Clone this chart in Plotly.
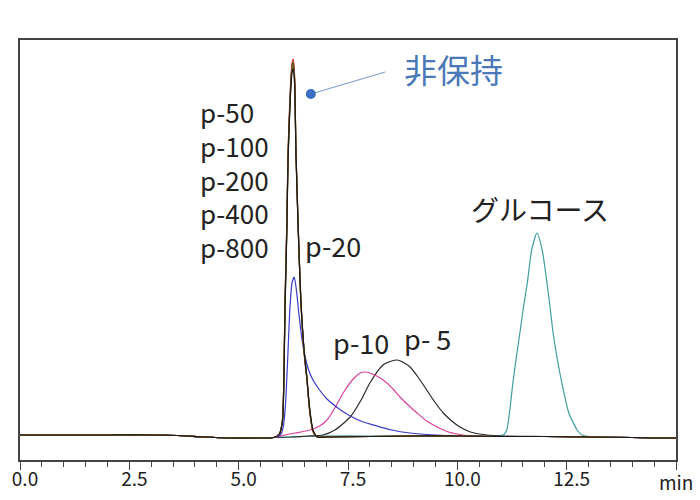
import plotly.graph_objects as go

# ---- data (time in min, detector signal in arbitrary units) ----
T_MAIN = [0, 1, 2, 3, 3.6, 4.2, 4.8, 5.4, 5.8, 5.93, 6.0, 6.03, 6.06, 6.1, 6.13, 6.18, 6.22, 6.25,
          6.28, 6.31, 6.36, 6.42, 6.5, 6.56, 6.62, 6.7, 6.8, 7.0, 8, 9, 10, 11, 12, 13, 14, 14.5, 15]
P50 = [0, 0, 0, 0, -0.5, -2, -3, -3, -2.5, 1, 15, 50, 135, 210, 285, 345, 372, 376,
       358, 285, 210, 135, 80, 55, 25, 3, -2, -2, -1.5, -1, -1, -1.5, -1.5, -2, -2.5, -3, -3]
P100 = [0, 0, 0, 0, -0.5, -2, -3, -3, -2.5, 1, 14, 48, 132, 207, 282, 342, 369, 373,
        356, 284, 210, 136, 81, 56, 26, 4, -2, -2, -1.5, -1, -1, -1.5, -1.5, -2, -2.5, -3, -3]
P200 = [0, 0, 0, 0, -0.5, -2, -3, -3, -2.5, 1, 14, 47, 130, 205, 280, 340, 367, 371,
        354, 283, 209, 136, 82, 57, 27, 4, -2, -2, -1.5, -1, -1, -1.5, -1.5, -2, -2.5, -3, -3]
P400 = [0, 0, 0, 0, -0.5, -2, -3, -3, -2.5, 1, 13, 46, 128, 203, 278, 338, 365, 369,
        352, 282, 209, 137, 82, 57, 27, 4, -2, -2, -1.5, -1, -1, -1.5, -1.5, -2, -2.5, -3, -3]
P800 = [0, 0, 0, 0, -0.5, -2, -3, -3, -2.5, 1, 13, 45, 126, 200, 276, 336, 362, 366,
        350, 281, 208, 137, 83, 58, 28, 5, -2, -2, -1.5, -1, -1, -1.5, -1.5, -2, -2.5, -3, -3]

T_P20 = [0, 1, 2, 3, 3.6, 4.2, 4.8, 5.4, 5.8, 5.95, 6.02, 6.07, 6.12, 6.17, 6.22, 6.27, 6.32, 6.38,
         6.45, 6.52, 6.6, 6.7, 6.85, 7.02, 7.3, 7.55, 7.85, 8.16, 8.5, 8.92, 9.5, 10, 11, 12, 13, 14, 14.5, 15]
P20 = [0, 0, 0, 0, -0.5, -2, -3, -3, -2.5, 0, 8, 30, 75, 125, 152, 158, 145, 120,
       95, 78, 65, 55, 45, 36, 26, 19, 13, 9, 5, 2, 0, -1, -1.5, -1.5, -2, -2.5, -3, -3]

T_P10 = [0, 1, 2, 3, 3.6, 4.2, 4.8, 5.4, 5.8, 5.95, 6.05, 6.3, 6.63, 6.85, 7.02, 7.2, 7.39, 7.6, 7.78,
         7.9, 8.0, 8.2, 8.39, 8.55, 8.69, 8.9, 9.08, 9.3, 9.54, 9.8, 10.0, 10.3, 11, 12, 13, 14, 14.5, 15]
P10 = [0, 0, 0, 0, -0.5, -2, -3, -3, -2.5, -1, 0, 2, 5, 9, 15, 27, 42, 55, 62,
       63, 62, 58, 52, 45, 38, 29, 22, 14, 8, 3, 1, -1, -1.5, -1.5, -2, -2.5, -3, -3]

T_P5 = [0, 1, 2, 3, 3.6, 4.2, 4.8, 5.4, 5.8, 6.2, 6.6, 6.93, 7.2, 7.55, 7.8, 8.0, 8.3, 8.5, 8.62,
        8.75, 8.92, 9.1, 9.3, 9.5, 9.68, 9.9, 10.06, 10.3, 10.5, 11, 12, 13, 14, 14.5, 15]
P5 = [0, 0, 0, 0, -0.5, -2, -3, -3, -2.5, -2, -1, 0, 5, 18, 35, 52, 70, 74, 75,
      73, 68, 58, 45, 32, 22, 13, 8, 3, 1, -1, -1.5, -2, -2.5, -3, -3]

T_GLU = [0, 1, 2, 3, 3.6, 4.2, 4.8, 5.4, 5.8, 6.5, 7, 8, 9, 10, 10.8, 11.05, 11.13, 11.2, 11.27,
         11.35, 11.43, 11.52, 11.6, 11.7, 11.82, 11.94, 12.05, 12.12, 12.19, 12.29, 12.39, 12.55,
         12.74, 12.85, 13, 14, 14.5, 15]
GLU = [0, 0, 0, 0, -0.5, -2, -3, -3, -2.5, -1.5, -1, -1, -1, -1, -1, 0, 5, 25, 52,
       78, 102, 130, 152, 185, 202, 185, 152, 128, 102, 75, 52, 22,
       5, 0, -1.5, -2.5, -3, -3]

CALLOUT_X = [6.65, 8.35]
CALLOUT_Y = [341, 363]

GROUP_LABELS = ["p-50", "p-100", "p-200", "p-400", "p-800"]

TICK_VALS = [0, 2.5, 5, 7.5, 10, 12.5, 15]
TICK_TEXT = ["0.0", "2.5", "5.0", "7.5", "10.0", "12.5", ""]
UNIT_LABEL = "min"

FONT = "Noto Sans CJK JP"

fig = go.Figure()

def add(x, y, color, name, w=1.2):
    fig.add_trace(go.Scatter(x=x, y=y, mode="lines", name=name,
                             line=dict(color=color, width=w, shape="spline", smoothing=0.6),
                             showlegend=False, hoverinfo="skip"))

add(T_GLU, GLU, "#3f9ea0", "グルコース")
add(T_P5, P5, "#2a2a2a", "p-5")
add(T_P10, P10, "#e0409a", "p-10")
add(T_P20, P20, "#3a3ac8", "p-20")
add(T_MAIN, P200, "#2e8b3e", "p-200")
add(T_MAIN, P50, "#d03030", "p-50")
add(T_MAIN, P400, "#8a6a20", "p-400")
add(T_MAIN, P100, "#6b5020", "p-100")
add(T_MAIN, P800, "#1a1a1a", "p-800")

# callout line and dot
fig.add_trace(go.Scatter(x=CALLOUT_X, y=CALLOUT_Y, mode="lines",
                         line=dict(color="#7f9fcc", width=1.2),
                         showlegend=False, hoverinfo="skip"))
fig.add_trace(go.Scatter(x=CALLOUT_X[:1], y=CALLOUT_Y[:1], mode="markers",
                         marker=dict(color="#3b6fc4", size=10),
                         showlegend=False, hoverinfo="skip"))

TXT = "#222222"
def ann(x, y, text, size=27, color=TXT):
    fig.add_annotation(x=x, y=y, xref="x", yref="y", text=text, showarrow=False,
                       xanchor="left", yanchor="middle", align="left",
                       font=dict(family=FONT, size=size, color=color))

ann(4.06, 256, "<br>".join(GROUP_LABELS), size=26)
ann(6.46, 190, "p-20")
ann(7.10, 93, "p-10")
ann(8.74, 97, "p- 5")
ann(10.26, 226, "グルコース", size=28)
ann(8.74, 366, "非保持", size=33, color="#4a78b8")

# unit label at the end of the time axis
fig.add_annotation(x=TICK_VALS[-1], y=0, xref="x", yref="paper", text=UNIT_LABEL,
                   showarrow=False, xanchor="center", yanchor="middle", yshift=-21,
                   font=dict(family=FONT, size=19, color="#1e1e1e"))

fig.update_xaxes(range=[0, 15], showline=True, linecolor="#444", linewidth=1.5, mirror=True,
                 showgrid=False, zeroline=False, automargin=False,
                 tickvals=TICK_VALS, ticktext=TICK_TEXT, ticks="outside", ticklen=8,
                 tickcolor="#444", tickwidth=1.3, ticklabelshift=5, ticklabelstandoff=-7,
                 minor=dict(dtick=0.5, ticks="outside", ticklen=5, tickcolor="#444", tickwidth=1.2),
                 tickfont=dict(family=FONT, size=19, color="#1e1e1e"))
fig.update_yaxes(range=[-25, 395], showline=True, linecolor="#444", linewidth=1.5, mirror=True,
                 showgrid=False, zeroline=False, showticklabels=False, ticks="", automargin=False)

fig.update_layout(width=700, height=500, margin=dict(l=20, r=24, t=40, b=40),
                  plot_bgcolor="white", paper_bgcolor="white",
                  font=dict(family=FONT))

fig.write_html("out.html")
